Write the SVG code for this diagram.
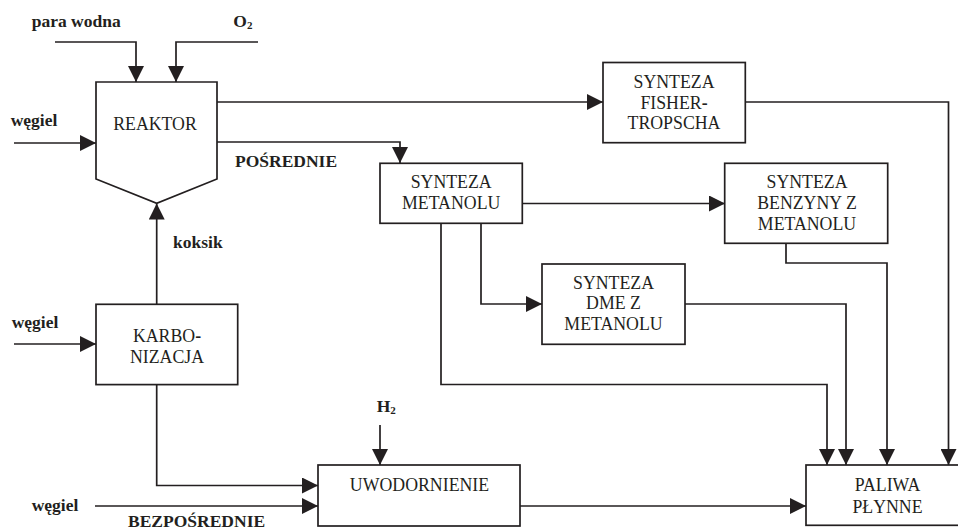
<svg xmlns="http://www.w3.org/2000/svg" width="958" height="531" viewBox="0 0 958 531">
<style>
.box{fill:#fff;stroke:#231f20;stroke-width:1.7}
.con{fill:none;stroke:#231f20;stroke-width:1.7;marker-end:url(#arr)}
.lbl{font-family:"Liberation Serif","Times New Roman",serif;font-size:17.8px;fill:#231f20;text-anchor:middle}
.bl{font-family:"Liberation Serif","Times New Roman",serif;font-size:17.5px;font-weight:bold;fill:#231f20}
.sub{font-size:11px}
</style>
<defs>
<marker id="arr" markerUnits="userSpaceOnUse" viewBox="0 0 16 16" refX="16" refY="8" markerWidth="16" markerHeight="16" orient="auto">
<path d="M0,0 L16,8 L0,16 z" fill="#231f20"/>
</marker>
</defs>
<rect width="958" height="531" fill="#fff"/>
<g id="connectors">
<path class="con" d="M55,42 H136 V82"/>
<path class="con" d="M258,42 H176 V82"/>
<path class="con" d="M14,143 H96"/>
<path class="con" d="M217,102 H603"/>
<path class="con" d="M217,142 H400 V163"/>
<path class="con" d="M522,203.5 H725"/>
<path class="con" d="M481,223 V304 H542"/>
<path class="con" d="M441,223 V384.5 H827 V465"/>
<path class="con" d="M685,304 H846 V465"/>
<path class="con" d="M786,243 V263 H887 V465"/>
<path class="con" d="M745,102 H948.5 V465"/>
<path class="con" d="M156.7,304 V203.5"/>
<path class="con" d="M14,344 H96"/>
<path class="con" d="M156.7,385 V485.5 H318"/>
<path class="con" d="M95,506 H318"/>
<path class="con" d="M380,425 V465"/>
<path class="con" d="M520,506 H806"/>
</g>
<g id="reaktor">
<polygon class="box" points="96,82 217,82 217,179 156.7,203.3 96,179"/>
<text class="lbl" x="155" y="130">REAKTOR</text>
</g>
<g id="ft">
<rect class="box" x="603" y="62.5" width="142.3" height="80.2"/>
<text class="lbl" x="674" y="88.3">SYNTEZA</text>
<text class="lbl" x="674" y="108.6">FISHER<tspan font-weight="bold">-</tspan></text>
<text class="lbl" x="674" y="129">TROPSCHA</text>
</g>
<g id="metanol">
<rect class="box" x="380" y="163.3" width="142.3" height="60"/>
<text class="lbl" x="451.2" y="188.3">SYNTEZA</text>
<text class="lbl" x="451.2" y="209.3">METANOLU</text>
</g>
<g id="benzyny">
<rect class="box" x="724.7" y="163.3" width="163" height="80"/>
<text class="lbl" x="807" y="188.3">SYNTEZA</text>
<text class="lbl" x="807" y="209">BENZYNY Z</text>
<text class="lbl" x="807" y="230">METANOLU</text>
</g>
<g id="dme">
<rect class="box" x="542" y="264" width="143" height="80.3"/>
<text class="lbl" x="613.5" y="289">SYNTEZA</text>
<text class="lbl" x="613.5" y="309.3">DME Z</text>
<text class="lbl" x="613.5" y="330">METANOLU</text>
</g>
<g id="karbonizacja">
<rect class="box" x="96" y="304.3" width="141.7" height="80.3"/>
<text class="lbl" x="167" y="342.3">KARBO<tspan font-weight="bold">-</tspan></text>
<text class="lbl" x="167" y="363.3">NIZACJA</text>
</g>
<g id="uwodornienie">
<rect class="box" x="318" y="465" width="202" height="61"/>
<text class="lbl" x="419.5" y="490.7">UWODORNIENIE</text>
</g>
<g id="paliwa">
<rect class="box" x="806" y="465" width="163" height="60.3"/>
<text class="lbl" x="887.5" y="491">PALIWA</text>
<text class="lbl" x="887.5" y="512.7">PŁYNNE</text>
</g>
<g id="labels">
<text class="bl" x="31.7" y="27">para wodna</text>
<text class="bl" x="233.3" y="27">O<tspan class="sub" dy="2">2</tspan></text>
<text class="bl" x="10.7" y="126">węgiel</text>
<text class="bl" x="235" y="166.7">POŚREDNIE</text>
<text class="bl" x="173" y="248">koksik</text>
<text class="bl" x="11.7" y="328.3">węgiel</text>
<text class="bl" x="376.7" y="411.7">H<tspan class="sub" dy="2">2</tspan></text>
<text class="bl" x="31.7" y="511">węgiel</text>
<text class="bl" x="128" y="527">BEZPOŚREDNIE</text>
</g>
</svg>
